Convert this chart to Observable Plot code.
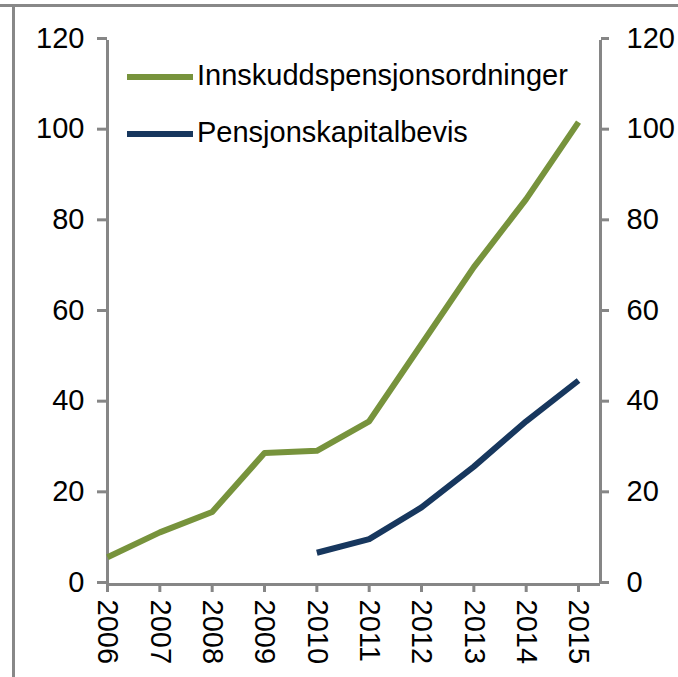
<!DOCTYPE html>
<html>
<head>
<meta charset="utf-8">
<script src="https://cdn.jsdelivr.net/npm/d3@7"></script>
<script src="https://cdn.jsdelivr.net/npm/@observablehq/plot@0.6"></script>
<style>
  html, body { margin: 0; padding: 0; background: #fff; }
  #wrap { position: relative; width: 678px; height: 677px; overflow: hidden; font-family: "Liberation Sans", Arial, sans-serif; }
  #wrap svg { position: absolute; left: 0; top: 0; }
  .border-top { position: absolute; left: 0; top: 4px; width: 678px; height: 3px; background: #888; }
  .border-left { position: absolute; left: 12px; top: 4px; width: 3px; height: 673px; background: #888; }
  .legend-row { position: absolute; left: 127px; display: flex; align-items: center; height: 29px; line-height: 29px; font-size: 29px; color: #000; white-space: nowrap; }
  .swatch { width: 66px; height: 6px; margin-right: 4px; margin-top: 3px; }
</style>
</head>
<body>
<div id="wrap"></div>
<script>
// ---- data ----
const years = [2006, 2007, 2008, 2009, 2010, 2011, 2012, 2013, 2014, 2015];
const innskuddspensjon = [6, 11.5, 16, 29, 29.5, 36, 53, 70, 85, 102];
const pensjonskapitalbevis = [null, null, null, null, 7, 10, 17, 26, 36, 45];
const seriesNames = ["Innskuddspensjonsordninger", "Pensjonskapitalbevis"];
const seriesColors = ["#77933C", "#17375E"];
const yTicks = [0, 20, 40, 60, 80, 100, 120];

// ---- table ----
const rows = [];
[innskuddspensjon, pensjonskapitalbevis].forEach((vals, si) => {
  vals.forEach((v, i) => { if (v != null) rows.push({ year: years[i], value: v, series: seriesNames[si] }); });
});

const axisGray = "#868686";
const font = "'Liberation Sans', Arial, sans-serif";
const xMax = years[years.length - 1] + 0.42;

const chart = Plot.plot({
  width: 678,
  height: 677,
  marginLeft: 107,
  marginRight: 78,
  marginTop: 40,
  marginBottom: 93,
  x: { domain: [years[0], xMax], label: null },
  y: { domain: [0, 120], label: null },
  color: { domain: seriesNames, range: seriesColors },
  style: { fontFamily: font, fontSize: "29px", color: "#000", background: "transparent", overflow: "visible" },
  marks: [
    Plot.ruleX([years[0], xMax], { stroke: axisGray, strokeWidth: 3 }),
    Plot.ruleY([0], { stroke: axisGray, strokeWidth: 3 }),
    Plot.axisY(yTicks, { anchor: "left", label: null, tickSize: 10, tickPadding: 13, stroke: axisGray, strokeWidth: 3, fill: "#000", fontSize: 29, dy: -2, tickFormat: d => String(d) }),
    Plot.axisY(yTicks, { anchor: "right", label: null, tickSize: 8, tickPadding: 18, stroke: axisGray, strokeWidth: 3, fill: "#000", fontSize: 29, dy: -2, tickFormat: d => String(d) }),
    Plot.axisX(years, { anchor: "bottom", label: null, tickSize: 8, tickPadding: 7, tickRotate: 90, stroke: axisGray, strokeWidth: 3, fill: "#000", fontSize: 29, tickFormat: d => String(d) }),
    Plot.lineY(rows, { x: "year", y: "value", z: "series", stroke: "series", strokeWidth: 6, strokeLinejoin: "round", strokeLinecap: "butt" })
  ]
});

const wrap = document.getElementById("wrap");
wrap.appendChild(chart);

const bt = document.createElement("div"); bt.className = "border-top"; wrap.appendChild(bt);
const bl = document.createElement("div"); bl.className = "border-left"; wrap.appendChild(bl);

const legendTops = [61, 118];
seriesNames.forEach((name, i) => {
  const row = document.createElement("div");
  row.className = "legend-row";
  row.style.top = legendTops[i] + "px";
  const sw = document.createElement("span");
  sw.className = "swatch";
  sw.style.background = seriesColors[i];
  const tx = document.createElement("span");
  tx.textContent = name;
  row.appendChild(sw);
  row.appendChild(tx);
  wrap.appendChild(row);
});
</script>
</body>
</html>
